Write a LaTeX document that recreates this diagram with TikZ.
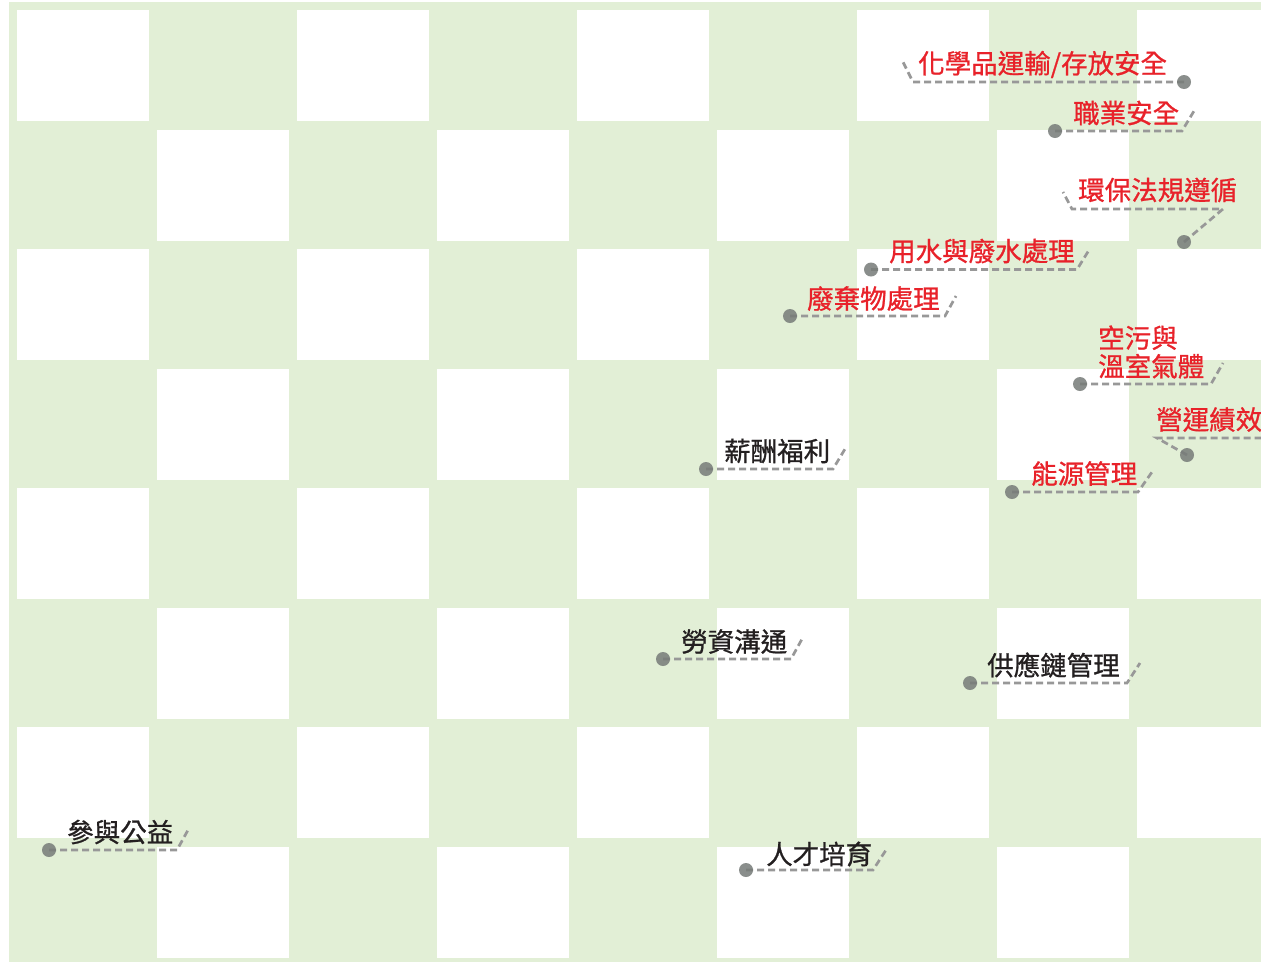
\documentclass[tikz,border=0pt]{standalone}
\usepackage{fontspec}
\newfontfamily\cjk[FakeBold=0.9]{Noto Sans CJK TC}
\definecolor{bggreen}{RGB}{226,239,214}
\definecolor{lblred}{RGB}{232,34,42}
\definecolor{lblblack}{RGB}{35,31,32}
\definecolor{leadgray}{RGB}{152,152,152}
\definecolor{dotgray}{RGB}{118,123,120}
\tikzset{
  leader/.style={draw=leadgray, line width=2.7pt, dash pattern=on 7pt off 4pt},
  dotnode/.style={circle, minimum size=14pt, inner sep=0pt},
  dotfill/.style={fill=dotgray, opacity=0.85},
  lbl/.style={anchor=west, inner sep=0pt, font=\cjk\fontsize{26.5}{28.5}\selectfont, align=left},
  redlbl/.style={lbl, text=lblred},
  blacklbl/.style={lbl, text=lblblack}
}
\begin{document}
\begin{tikzpicture}[x=1pt,y=-1pt]
\useasboundingbox (0,0) rectangle (1261,962);
\fill[bggreen] (9,2) rectangle (1261,962);
\foreach \i in {0,...,8}{
  \foreach \j in {0,...,7}{
    \pgfmathtruncatemacro\parity{mod(\i+\j,2)}
    \ifnum\parity=0
      \fill[white] ({17+140*\i},{10+119.5*\j}) rectangle ++(132,111);
    \fi
  }
}
% 1
\node[redlbl] (t1) at (918,64.5) {化學品運輸/存放安全};
\node[dotnode] (d1) at (1184,82) {};
\coordinate (k1) at (913,82);
\coordinate (e1) at (903,62);
% 2
\node[redlbl] (t2) at (1073,113) {職業安全};
\node[dotnode] (d2) at (1055,131) {};
\coordinate (k2) at (1182,131);
\coordinate (e2) at (1194,111);
% 3
\node[redlbl] (t3) at (1078,190) {環保法規遵循};
\node[dotnode] (d3) at (1184,242) {};
\coordinate (k3a) at (1223,209);
\coordinate (k3b) at (1072,209);
\coordinate (e3) at (1063,192);
% 4
\node[redlbl] (t4) at (889,251) {用水與廢水處理};
\node[dotnode] (d4) at (871,269.5) {};
\coordinate (k4) at (1077,269.5);
\coordinate (e4) at (1089,250);
% 5
\node[redlbl] (t5) at (807,298.5) {廢棄物處理};
\node[dotnode] (d5) at (790,316) {};
\coordinate (k5) at (945,316);
\coordinate (e5) at (956,296);
% 6
\node[redlbl] (t6) at (1098,352) {空污與\\溫室氣體};
\node[dotnode] (d6) at (1080,384) {};
\coordinate (k6) at (1211,384);
\coordinate (e6) at (1223,363);
% 7
\node[redlbl] (t7) at (1156,419.5) {營運績效};
\node[dotnode] (d7) at (1187,455) {};
\coordinate (k7) at (1157,438);
\coordinate (e7) at (1262,438);
% 8
\node[redlbl] (t8) at (1031,473.5) {能源管理};
\node[dotnode] (d8) at (1012,492) {};
\coordinate (k8) at (1138,492);
\coordinate (e8) at (1152,472);
% 9
\node[blacklbl] (t9) at (724,451) {薪酬福利};
\node[dotnode] (d9) at (706,469) {};
\coordinate (k9) at (833,469);
\coordinate (e9) at (845,449);
% 10
\node[blacklbl] (t10) at (681,641.5) {勞資溝通};
\node[dotnode] (d10) at (663,659) {};
\coordinate (k10) at (791,659);
\coordinate (e10) at (802,639);
% 11
\node[blacklbl] (t11) at (987,665) {供應鏈管理};
\node[dotnode] (d11) at (970,683) {};
\coordinate (k11) at (1127,683);
\coordinate (e11) at (1140,663);
% 12
\node[blacklbl] (t12) at (766,854) {人才培育};
\node[dotnode] (d12) at (746,870) {};
\coordinate (k12) at (873,870);
\coordinate (e12) at (886,850);
% 13
\node[blacklbl] (t13) at (67,832) {參與公益};
\node[dotnode] (d13) at (49,850) {};
\coordinate (k13) at (177,850);
\coordinate (e13) at (188,830);
% leaders
\draw[leader] (d1.center) -- (k1) -- (e1);
\draw[leader] (d2.center) -- (k2) -- (e2);
\draw[leader] (d3.center) -- (k3a) -- (k3b) -- (e3);
\draw[leader] (d4.center) -- (k4) -- (e4);
\draw[leader] (d5.center) -- (k5) -- (e5);
\draw[leader] (d6.center) -- (k6) -- (e6);
\draw[leader] (d7.center) -- (k7) -- (e7);
\draw[leader] (d8.center) -- (k8) -- (e8);
\draw[leader] (d9.center) -- (k9) -- (e9);
\draw[leader] (d10.center) -- (k10) -- (e10);
\draw[leader] (d11.center) -- (k11) -- (e11);
\draw[leader] (d12.center) -- (k12) -- (e12);
\draw[leader] (d13.center) -- (k13) -- (e13);
\foreach \n in {d1,d2,d3,d4,d5,d6,d7,d8,d9,d10,d11,d12,d13}{
  \fill[dotfill] (\n.center) circle (7pt);
}
\end{tikzpicture}
\end{document}
